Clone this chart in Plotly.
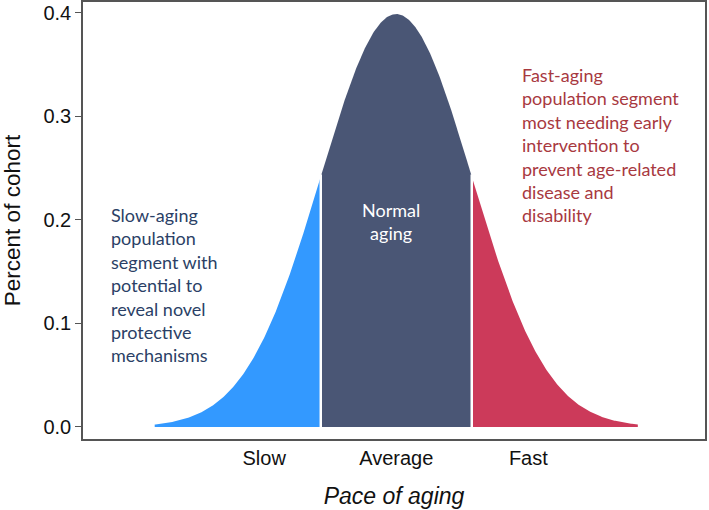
import numpy as np
import plotly.graph_objects as go

# ---- data ----
mean = 0.0
sd = 1.0
x_min, x_max = -3.2, 3.2
cut_points = [-1.0, 1.0]
segment_names = ["Slow", "Normal", "Fast"]
segment_colors = ["#3399ff", "#4a5675", "#cc3a5a"]
tick_positions = [-1.75, 0.0, 1.75]
tick_labels = ["Slow", "Average", "Fast"]
y_ticks = [0.0, 0.1, 0.2, 0.3, 0.4]

def pdf(x):
    return np.exp(-0.5 * ((x - mean) / sd) ** 2) / (sd * np.sqrt(2 * np.pi))

edges = [x_min] + cut_points + [x_max]

fig = go.Figure()
for i in range(3):
    xs = np.linspace(edges[i], edges[i + 1], 200)
    ys = pdf(xs)
    px = np.concatenate([[xs[0]], xs, [xs[-1]]])
    py = np.concatenate([[0], ys, [0]])
    fig.add_trace(go.Scatter(x=px, y=py, fill="toself", mode="lines",
                             line=dict(width=0, color=segment_colors[i]),
                             fillcolor=segment_colors[i], hoverinfo="skip",
                             name=segment_names[i], showlegend=False))
for c in cut_points:
    fig.add_trace(go.Scatter(x=[c, c], y=[0, pdf(c) + 0.002], mode="lines",
                             line=dict(color="white", width=2.5),
                             hoverinfo="skip", showlegend=False))

txt_font = "Lato, 'Noto Sans', sans-serif"
fig.add_annotation(x=-3.8, y=0.217, xanchor="left", yanchor="top", align="left",
                   showarrow=False,
                   text="Slow-aging<br>population<br>segment with<br>potential to<br>reveal novel<br>protective<br>mechanisms",
                   font=dict(family=txt_font, size=18, color="#2b3f66"))
fig.add_annotation(x=-0.07, y=0.222, xanchor="center", yanchor="top", align="center",
                   showarrow=False, text="Normal<br>aging",
                   font=dict(family=txt_font, size=18, color="white"))
fig.add_annotation(x=1.64, y=0.3527, xanchor="left", yanchor="top", align="left",
                   showarrow=False,
                   text="Fast-aging<br>population segment<br>most needing early<br>intervention to<br>prevent age-related<br>disease and<br>disability",
                   font=dict(family=txt_font, size=18, color="#a8393f"))

axis_font = "Liberation Sans, Arial, sans-serif"
fig.update_layout(
    width=709, height=510,
    margin=dict(l=83, r=4, t=2, b=71),
    plot_bgcolor="white", paper_bgcolor="white",
    font=dict(family=axis_font, color="#111"),
    xaxis=dict(range=[-4.15, 4.09], tickvals=tick_positions, ticktext=tick_labels,
               ticks="", showgrid=False, zeroline=False, showline=True,
               linecolor="#555", linewidth=1.5, mirror=True, automargin=False,
               tickfont=dict(size=20, color="#111"),
               title=dict(text="<i>Pace of aging</i>", font=dict(size=23), standoff=20)),
    yaxis=dict(range=[-0.0116, 0.4106], tickvals=y_ticks,
               ticktext=[f"{v:.1f}" for v in y_ticks],
               ticks="outside", ticklen=6, tickcolor="#555", tickwidth=1.2,
               showgrid=False, zeroline=False, showline=True,
               linecolor="#555", linewidth=1.5, mirror=True, automargin=False,
               tickfont=dict(size=20, color="#111"),
               title=dict(text="Percent of cohort", font=dict(size=22.5), standoff=18)),
)
fig.write_html("out.html", config={"displayModeBar": False},
               post_script="document.body.style.margin='0px';document.body.style.overflow='hidden';")
